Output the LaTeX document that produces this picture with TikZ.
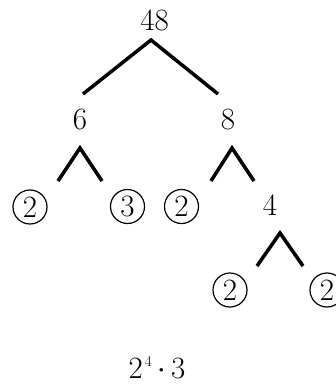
\documentclass[tikz,border=0pt]{standalone}
\usepackage{fontspec}
\begin{document}
\begin{tikzpicture}[x=1pt,y=-1pt,
  num/.style={font=\fontsize{31}{32}\selectfont, inner sep=0pt},
  prime/.style={num, draw, circle, line width=1.2pt, minimum size=34pt},
  branch/.style={line width=3.5pt, line join=miter}]
\useasboundingbox (0,0) rectangle (336,385);
% numbers
\node[num] (n48) at (154.5,20.5) {48};
\node[num] (n6) at (80,120) {6};
\node[num] (n8) at (228,120) {8};
\node[prime] (p2a) at (30,207) {2};
\node[prime] (p3) at (127.5,206.5) {3};
\node[prime] (p2b) at (181.5,206.5) {2};
\node[num] (n4) at (270,205) {4};
\node[prime] (p2c) at (230,290) {2};
\node[prime] (p2d) at (327,290) {2};
\node[num] (res) at (157,368) {2\hspace{2pt}\raisebox{0.4em}{\fontsize{15}{15}\selectfont 4}\hspace{4pt}{\fontsize{16}{16}\selectfont\raisebox{0.3em}{\textbullet}}\hspace{4pt}3};
% branch coordinates
\coordinate (a48) at (151,40);
\coordinate (l48) at (83,94);
\coordinate (r48) at (218,94);
\coordinate (a6) at (80,148);
\coordinate (l6) at (58,181);
\coordinate (r6) at (102,181);
\coordinate (a8) at (232,148);
\coordinate (l8) at (211,181);
\coordinate (r8) at (254,181);
\coordinate (a4) at (280,233);
\coordinate (l4) at (257,266);
\coordinate (r4) at (303,266);
% branches
\draw[branch] (l48) -- (a48) -- (r48);
\draw[branch] (l6) -- (a6) -- (r6);
\draw[branch] (l8) -- (a8) -- (r8);
\draw[branch] (l4) -- (a4) -- (r4);
\end{tikzpicture}
\end{document}
